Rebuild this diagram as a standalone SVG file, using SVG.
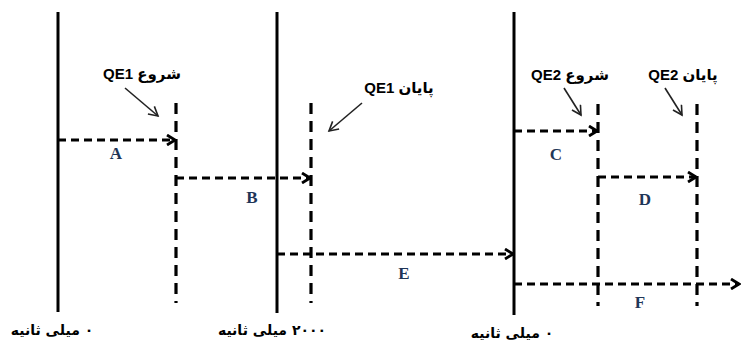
<svg xmlns="http://www.w3.org/2000/svg" width="741" height="341" viewBox="0 0 741 341">
<defs>
<marker id="ah" markerWidth="12" markerHeight="12" refX="10" refY="6" orient="auto" markerUnits="userSpaceOnUse">
<path d="M2,1 L10,6 L2,11" fill="none" stroke="#000" stroke-width="2.8"/>
</marker>
<marker id="ps" markerWidth="12" markerHeight="12" refX="10" refY="6" orient="auto" markerUnits="userSpaceOnUse">
<path d="M1,1 L10,6 L1,11" fill="none" stroke="#222" stroke-width="1.6"/>
</marker>
<style>
.solid{stroke:#000;stroke-width:3;fill:none}
.dv{stroke:#000;stroke-width:3.2;stroke-dasharray:11 7;fill:none}
.dh{stroke:#000;stroke-width:3;stroke-dasharray:8 5;fill:none;marker-end:url(#ah)}
.ptr{stroke:#222;stroke-width:1.6;fill:none;marker-end:url(#ps)}
.lbl{font-family:"Liberation Serif",serif;font-size:17px;font-weight:bold;fill:#1f3658;text-anchor:middle}
.top{font-family:"Liberation Sans","DejaVu Sans",sans-serif;font-size:15px;font-weight:bold;fill:#000;text-anchor:middle;direction:rtl;unicode-bidi:embed}
.bot{font-family:"DejaVu Sans",sans-serif;font-size:14px;font-weight:bold;fill:#000;text-anchor:middle;direction:rtl;unicode-bidi:embed}
</style>
</defs>
<g id="timelines">
<line class="solid" x1="58" y1="12" x2="58" y2="312"/>
<line class="solid" x1="277" y1="12" x2="277" y2="313"/>
<line class="solid" x1="514" y1="12" x2="514" y2="315"/>
<line class="dv" x1="176" y1="103" x2="176" y2="303"/>
<line class="dv" x1="311" y1="103" x2="311" y2="303"/>
<line class="dv" x1="598" y1="104" x2="598" y2="306"/>
<line class="dv" x1="697" y1="104" x2="697" y2="306"/>
</g>
<g id="connectors">
<line class="dh" x1="58" y1="140" x2="175" y2="140"/>
<line class="dh" x1="176" y1="178" x2="310" y2="178"/>
<line class="dh" x1="514" y1="131" x2="597" y2="131"/>
<line class="dh" x1="598" y1="177" x2="696" y2="177"/>
<line class="dh" x1="277" y1="254" x2="513" y2="254"/>
<line class="dh" x1="514" y1="284" x2="739" y2="284"/>
<line class="ptr" x1="125" y1="88" x2="158" y2="116"/>
<line class="ptr" x1="362" y1="103" x2="329" y2="131"/>
<line class="ptr" x1="564" y1="88" x2="581" y2="115"/>
<line class="ptr" x1="665" y1="88" x2="682" y2="115"/>
</g>
<g id="labels">
<text class="lbl" x="116" y="159">A</text>
<text class="lbl" x="252" y="203">B</text>
<text class="lbl" x="556" y="160">C</text>
<text class="lbl" x="645" y="205">D</text>
<text class="lbl" x="404" y="279">E</text>
<text class="lbl" x="640" y="308">F</text>
</g>
<g id="annotations">
<text class="top" x="142" y="79">شروع QE1</text>
<text class="top" x="399" y="93">پایان QE1</text>
<text class="top" x="570" y="80">شروع QE2</text>
<text class="top" x="683" y="80">پایان QE2</text>
</g>
<g id="times">
<text class="bot" x="52" y="335">۰ میلی ثانیه</text>
<text class="bot" x="272" y="335">۲۰۰۰ میلی ثانیه</text>
<text class="bot" x="512" y="338">۰ میلی ثانیه</text>
</g>
</svg>
